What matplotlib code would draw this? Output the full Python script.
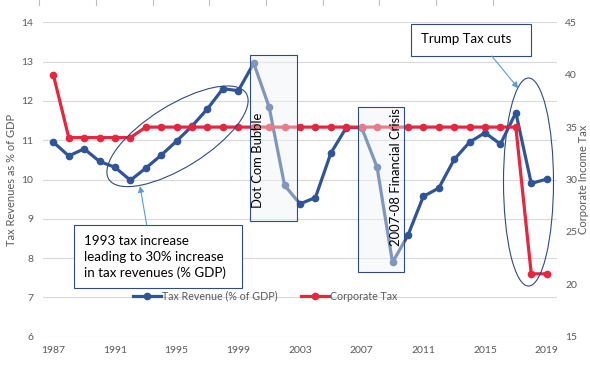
import matplotlib
matplotlib.use("Agg")
import matplotlib.pyplot as plt
from matplotlib.patches import Ellipse, Rectangle
from matplotlib.transforms import Affine2D
from matplotlib.lines import Line2D

years = list(range(1987, 2020))
tax_revenue = [10.95, 10.60, 10.78, 10.46, 10.31, 9.98, 10.29, 10.62, 10.98, 11.36,
               11.80, 12.31, 12.26, 12.96, 11.84, 9.85, 9.38, 9.54, 10.67, 11.32,
               11.32, 10.31, 7.89, 8.58, 9.57, 9.78, 10.51, 10.95, 11.19, 10.90,
               11.70, 9.90, 10.01]
corporate_tax = [40, 34, 34, 34, 34, 34, 35, 35, 35, 35,
                 35, 35, 35, 35, 35, 35, 35, 35, 35, 35,
                 35, 35, 35, 35, 35, 35, 35, 35, 35, 35,
                 35, 21, 21]
xtick_labels = [1987, 1991, 1995, 1999, 2003, 2007, 2011, 2015, 2019]

W, H = 590, 369
FONT = ["Lato", "DejaVu Sans"]
plt.rcParams['font.family'] = FONT
GRAY = "#595959"
BLUE = "#2F5597"
RED = "#E4263F"
BOXEDGE = "#2F4B85"

fig = plt.figure(figsize=(W / 100, H / 100), dpi=100)
ax = fig.add_axes([43 / W, 1 - 336.7 / H, (557 - 43) / W, (336.7 - 22.3) / H])
ax2 = ax.twinx()

# pixel transform (origin top-left)
PX = Affine2D().scale(1 / W, -1 / H).translate(0, 1) + fig.transFigure

ax.set_xlim(1986.33, 2019.67)
ax.set_ylim(6, 14)
ax2.set_ylim(15, 45)
ax.set_yticks(range(6, 15))
ax2.set_yticks(range(15, 50, 5))
ax.set_xticks(xtick_labels)
ax.set_xticklabels([str(v) for v in xtick_labels])
for a in (ax, ax2):
    for s in a.spines.values():
        s.set_visible(False)
    a.tick_params(length=0, labelsize=7.5, labelcolor=GRAY)
ax.tick_params(axis='y', pad=7)
ax.tick_params(axis='x', pad=7)
ax2.tick_params(axis='y', pad=6)
ax.yaxis.grid(True, color="#D9D9D9", lw=0.8)
ax.set_axisbelow(True)

ax.plot(years, tax_revenue, color=BLUE, lw=2.3, marker='o', ms=4.5,
        mec=BLUE, mfc=BLUE, zorder=3, label="Tax Revenue (% of GDP)")
ax2.plot(years, corporate_tax, color=RED, lw=2.3, marker='o', ms=4.5,
         mec=RED, mfc=RED, zorder=3, label="Corporate Tax")

ax.set_ylabel("Tax Revenues as % of GDP", color=GRAY, fontsize=8)
ax.yaxis.set_label_coords(-0.05, 0.5)
ax2.set_ylabel("Corporate Income Tax", color=GRAY, fontsize=8)
ax2.yaxis.set_label_coords(1.04, 0.5)

# shaded boxes (pixel coords: x0, y0, x1, y1)
def box(x0, y0, x1, y1, fc, alpha):
    r = Rectangle((x0, y0), x1 - x0, y1 - y0, transform=PX, facecolor=fc,
                  alpha=alpha, edgecolor='none', zorder=10)
    ax2.add_patch(r)
    e = Rectangle((x0, y0), x1 - x0, y1 - y0, transform=PX, facecolor='none',
                  edgecolor=BOXEDGE, lw=0.8, zorder=11)
    ax2.add_patch(e)

box(250, 55, 296.7, 221, "#F0F1F4", 0.42)
box(358.3, 106.7, 404.3, 272.3, "#F0F1F4", 0.42)
box(74, 225, 242.3, 288.3, "white", 1.0)
box(411, 24.3, 531, 56, "white", 1.0)

ax2.text(258, 160, "Dot Com Bubble", transform=PX, rotation=90, ha='center',
         va='center', fontsize=9.4, color='black', zorder=12)
ax2.text(396, 177, "2007-08 Financial Crisis", transform=PX, rotation=90,
         ha='center', va='center', fontsize=9.4, color='black', zorder=12)
ax2.text(84, 257, "1993 tax increase\nleading to 30% increase\nin tax revenues (% GDP)",
         transform=PX, ha='left', va='center', fontsize=9.6, color='black',
         linespacing=1.4, zorder=12)
ax2.text(421, 39, "Trump Tax cuts", transform=PX, ha='left', va='center',
         fontsize=9.5, color='black', zorder=12)

# ellipses
ax2.add_patch(Ellipse((177.5, 136.3), 162, 62, angle=-32, transform=PX,
                      facecolor='none', edgecolor=BOXEDGE, lw=0.8, zorder=9))
ax2.add_patch(Ellipse((528.5, 182), 50, 208, angle=0, transform=PX,
                      facecolor='none', edgecolor=BOXEDGE, lw=0.8, zorder=9))

# arrows
ARROW = "#5B9BD5"
ax2.annotate("", xy=(140, 186), xytext=(146.7, 225), xycoords=PX, textcoords=PX,
             arrowprops=dict(arrowstyle='-|>', color=ARROW, lw=0.8,
                             mutation_scale=9, shrinkA=0, shrinkB=0), zorder=12)
ax2.annotate("", xy=(518.3, 88.3), xytext=(491.7, 56), xycoords=PX, textcoords=PX,
             arrowprops=dict(arrowstyle='-|>', color=ARROW, lw=0.8,
                             mutation_scale=9, shrinkA=0, shrinkB=0), zorder=12)

# legend
h1, l1 = ax.get_legend_handles_labels()
h2, l2 = ax2.get_legend_handles_labels()
leg = ax2.legend(h1 + h2, l1 + l2, loc='center left', bbox_to_anchor=(133, 296),
                 bbox_transform=PX, ncol=2, frameon=False, fontsize=7.7,
                 handlelength=2.6, handletextpad=0.1, columnspacing=2.2,
                 borderpad=0, borderaxespad=0, labelcolor=GRAY)
leg.set_zorder(13)

# faint tick marks at the very top
for xp in [39, 96, 153, 209, 266, 323, 379, 436, 493]:
    fig.add_artist(Line2D([xp, xp], [0, 5], transform=PX, color="#BFBFBF", lw=0.8))

fig.savefig("out.png", dpi=100)
